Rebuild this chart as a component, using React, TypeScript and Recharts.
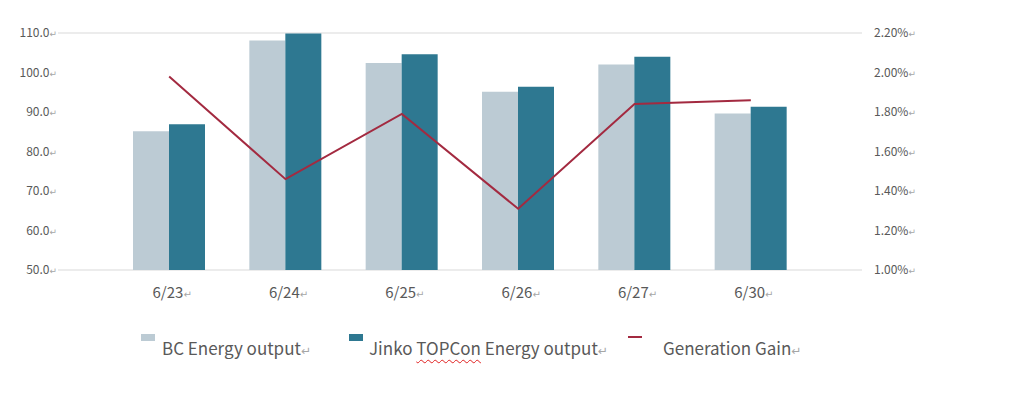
import React from 'react';
import { ComposedChart, Bar, Line, XAxis, YAxis, CartesianGrid } from 'recharts';

const dates = ['6/23', '6/24', '6/25', '6/26', '6/27', '6/30'];
const bcOutput = [85.1, 108.1, 102.4, 95.1, 102.0, 89.6];
const jinkoOutput = [86.9, 109.9, 104.6, 96.4, 104.0, 91.3];
const generationGain = [1.98, 1.46, 1.79, 1.31, 1.84, 1.86];
const leftTicks = [50, 60, 70, 80, 90, 100, 110];
const rightTicks = [1.0, 1.2, 1.4, 1.6, 1.8, 2.0, 2.2];

const data = dates.map((date, i) => ({
  date,
  bc: bcOutput[i],
  jinko: jinkoOutput[i],
  gain: generationGain[i],
}));

const FONT = '"Noto Sans CJK SC", "Noto Sans", sans-serif';
const TEXT = '#595959';
const MARK = '#a6a6a6';
const BC_COLOR = '#bccbd4';
const JINKO_COLOR = '#2e7891';
const GAIN_COLOR = '#a32a40';

// the little return arrows come from the Word paragraph marks
const Ret = ({ size }: { size: number }) => (
  <tspan fill={MARK} fontSize={size} fontFamily="DejaVu Sans">↵</tspan>
);

const LeftTick = ({ x, y, payload }: any) => (
  <text x={x - 1} y={y + 4} textAnchor="end" fontSize={12} fontFamily={FONT} fill={TEXT}>
    {Number(payload.value).toFixed(1)}
    <Ret size={9} />
  </text>
);

const RightTick = ({ x, y, payload }: any) => (
  <text x={x + 12} y={y + 4} textAnchor="start" fontSize={12} fontFamily={FONT} fill={TEXT}>
    {Number(payload.value).toFixed(2)}%
    <Ret size={9} />
  </text>
);

const DateTick = ({ x, y, payload }: any) => (
  <text x={x + 3} y={y + 28} textAnchor="middle" fontSize={15} fontFamily={FONT} fill={TEXT}>
    {payload.value}
    <Ret size={10} />
  </text>
);

const legendText: React.CSSProperties = {
  position: 'absolute',
  top: 327,
  fontSize: 17,
  fontFamily: FONT,
  color: TEXT,
  whiteSpace: 'nowrap',
  lineHeight: '26px',
};

const retStyle: React.CSSProperties = { color: MARK, fontSize: 12, fontFamily: 'DejaVu Sans' };

const ChartLegend = () => (
  <>
    <div style={{ position: 'absolute', left: 133, top: 326, width: 14, height: 7, background: BC_COLOR }} />
    <div style={{ ...legendText, left: 154 }}>
      BC Energy output<span style={retStyle}>↵</span>
    </div>
    <div style={{ position: 'absolute', left: 341, top: 326, width: 14, height: 7, background: JINKO_COLOR }} />
    <div style={{ ...legendText, left: 361 }}>
      Jinko{' '}
      <span style={{ textDecoration: 'underline wavy #e02020', textDecorationThickness: 1, textUnderlineOffset: 4 }}>
        TOPCon
      </span>{' '}
      Energy output<span style={retStyle}>↵</span>
    </div>
    <div style={{ position: 'absolute', left: 620, top: 328, width: 14, height: 2, background: GAIN_COLOR }} />
    <div style={{ ...legendText, left: 655 }}>
      Generation Gain<span style={retStyle}>↵</span>
    </div>
  </>
);

export default function App() {
  return (
    <div style={{ position: 'relative', width: 1000, height: 383, background: '#fff' }}>
      <ComposedChart
        width={1000}
        height={302}
        data={data}
        margin={{ top: 25, right: 76, left: 0, bottom: 0 }}
        barGap={0}
      >
        <CartesianGrid vertical={false} stroke="#d9d9d9" />
        <XAxis
          dataKey="date"
          height={40}
          axisLine={false}
          tickLine={false}
          tickSize={0}
          tickMargin={0}
          padding={{ left: 53, right: 53 }}
          tick={<DateTick />}
        />
        <YAxis
          yAxisId="left"
          width={50}
          domain={[50, 110]}
          ticks={leftTicks}
          axisLine={false}
          tickLine={false}
          tickSize={0}
          tickMargin={0}
          tick={<LeftTick />}
        />
        <YAxis
          yAxisId="right"
          orientation="right"
          width={70}
          domain={[1.0, 2.2]}
          ticks={rightTicks}
          axisLine={false}
          tickLine={false}
          tickSize={0}
          tickMargin={0}
          tick={<RightTick />}
        />
        <Bar yAxisId="left" dataKey="bc" fill={BC_COLOR} barSize={36} isAnimationActive={false} />
        <Bar yAxisId="left" dataKey="jinko" fill={JINKO_COLOR} barSize={36} isAnimationActive={false} />
        <Line
          yAxisId="right"
          dataKey="gain"
          type="linear"
          stroke={GAIN_COLOR}
          strokeWidth={2}
          dot={false}
          activeDot={false}
          isAnimationActive={false}
        />
      </ComposedChart>
      <ChartLegend />
    </div>
  );
}
